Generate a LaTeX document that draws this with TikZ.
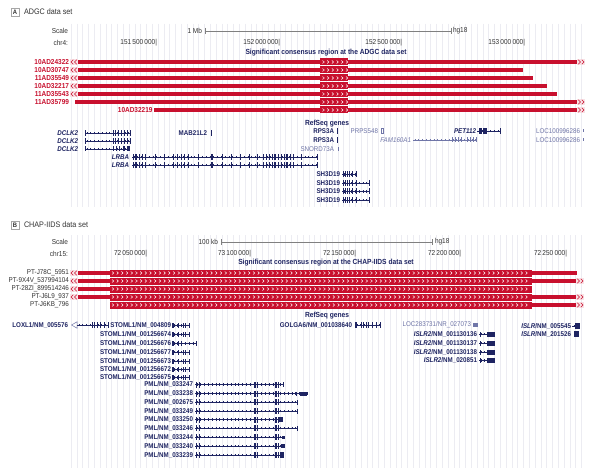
\documentclass[tikz,border=0pt]{standalone}
\usepackage{fontspec}
\setmainfont{Liberation Sans}[FakeStretch=0.9]
\definecolor{redc}{HTML}{C8102E}
\definecolor{navy}{HTML}{1E2462}
\definecolor{lnavy}{HTML}{7076A8}
\definecolor{gridc}{HTML}{ECECF2}
\definecolor{txtg}{HTML}{333333}
\newcommand\gline[4]{\draw[#1, line width=0.45pt] (#3,#2) -- (#4,#2);
  \draw[#1, line width=2.2pt, dash pattern=on 0.4pt off 3.4pt] (#3+1.5,#2) -- (#4,#2);}
\newcommand\gexon[4]{\foreach \a/\w in {#3} {\fill[#1] (\a-\w/2,#2-#4/2) rectangle (\a+\w/2,#2+#4/2);}}
\newcommand\lmark[2]{\fill[redc!12] (#1,#2-3) rectangle (#1+8,#2+3);
  \draw[redc, line width=0.5pt] (#1+3.2,#2-2.3)--(#1+1,#2)--(#1+3.2,#2+2.3) (#1+6.7,#2-2.3)--(#1+4.5,#2)--(#1+6.7,#2+2.3);}
\newcommand\rmark[2]{\fill[redc!12] (#1,#2-3) rectangle (#1+8,#2+3);
  \draw[redc, line width=0.5pt] (#1+1.3,#2-2.3)--(#1+3.5,#2)--(#1+1.3,#2+2.3) (#1+4.8,#2-2.3)--(#1+7,#2)--(#1+4.8,#2+2.3);}
\newcommand\chev[2]{\draw[white, line width=0.5pt] (#1,#2-1.5)--(#1+1.7,#2)--(#1,#2+1.5);}
\begin{document}
\begin{tikzpicture}[x=1pt,y=-1pt,
  every node/.style={inner sep=0pt, outer sep=0pt},
  hdr/.style={font=\fontsize{8}{9}\selectfont, text=txtg, anchor=west},
  sm/.style={font=\fontsize{7.2}{8}\selectfont, text=txtg},
  smp/.style={font=\bfseries\fontsize{7.2}{8}\selectfont, text=redc, anchor=east},
  smb/.style={font=\fontsize{7}{8}\selectfont, text=txtg, anchor=east},
  ttl/.style={font=\bfseries\fontsize{7.4}{8}\selectfont, text=navy},
  gb/.style={font=\bfseries\fontsize{6.9}{8}\selectfont, text=navy, anchor=east},
  gbi/.style={font=\bfseries\itshape\fontsize{6.9}{8}\selectfont, text=navy, anchor=east},
  gli/.style={font=\itshape\fontsize{6.9}{8}\selectfont, text=lnavy, anchor=east},
  glt/.style={font=\fontsize{6.9}{8}\selectfont, text=lnavy, anchor=east},
  pbox/.style={draw=gray!70, line width=0.5pt, minimum width=8.5pt, minimum height=8.5pt, font=\bfseries\fontsize{6.5}{7}\selectfont, text=txtg}
]
\useasboundingbox (0,0) rectangle (600,468);
\fill[white] (0,0) rectangle (600,468);
% grid lines
\foreach \x in {71,76.8,...,585} {\draw[gridc, line width=0.5pt] (\x,24) -- (\x,207);}
\foreach \x in {71,76.8,...,585} {\draw[gridc, line width=0.5pt] (\x,235) -- (\x,468);}

% ================= PANEL A =================
\node[pbox] (boxA) at (15,12.2) {A};
\node[hdr] (hA) at (24,12) {ADGC data set};
\node[sm, anchor=east] (scA) at (68,31) {Scale};
\node[sm, anchor=east] (mbA) at (202,31) {1 Mb};
\draw[gray, line width=0.5pt] (205,31)--(451,31) (205,28)--(205,34) (451,28)--(451,34);
\node[sm, anchor=west] (hgA) at (453,31) {hg18};
\node[sm, anchor=east] (chrA) at (68,43) {chr4:};
\node[sm, anchor=east] (pA1) at (157,43) {151\,500\,000|};
\node[sm, anchor=east] (pA2) at (280,43) {152\,000\,000|};
\node[sm, anchor=east] (pA3) at (402,43) {152\,500\,000|};
\node[sm, anchor=east] (pA4) at (525,43) {153\,000\,000|};
\node[ttl] (tA) at (326,52.5) {Significant consensus region at the ADGC data set};

\foreach \n/\y/\lab/\e in {1/62/10AD24322/578, 2/70/10AD30747/523, 3/78/11AD35549/533, 4/86/10AD32217/547, 5/94/11AD35543/557}{
  \node[smp] (sA\n) at (69,\y) {\lab};
  \lmark{70}{\y}
  \fill[redc] (78,\y-2.2) rectangle (\e,\y+2.2);
}
\node[smp] (sA6) at (69,102) {11AD35799};
\fill[redc] (75,102-2.2) rectangle (578,102+2.2);
\node[smp] (sA7) at (152.5,110) {10AD32219};
\fill[redc] (154,110-2.2) rectangle (578,110+2.2);
\foreach \y in {62,102,110} {\rmark{577}{\y}}
\foreach \y in {62,70,...,110} {
  \fill[redc] (320,\y-3.5) rectangle (348,\y+3.5);
  \foreach \x in {322.5,327.2,...,346} {\chev{\x}{\y}}
}

\node[ttl, anchor=west] (rA) at (305,124) {RefSeq genes};
% DCLK2
\foreach \y [count=\i] in {133,141} {
  \node[gbi] (dclk\i) at (78,\y) {DCLK2};
  \gline{navy}{\y}{85}{130}
  \gexon{navy}{\y}{85/0.6,113/1,115.5/0.8,118/0.8,121/1,124/0.8,127/1,130/0.8}{5.5}
}
\node[gbi] (dclk3) at (78,149) {DCLK2};
\gline{navy}{149}{85}{130}
\gexon{navy}{149}{85/0.6,113/0.8,116/0.8,119/0.8,124/1.5,128/3}{5}
% MAB21L2
\node[gb] (mab) at (207,133) {MAB21L2};
\fill[navy] (210.6,130) rectangle (211.6,136);
% LRBA
\foreach \y [count=\i] in {157,165} {
  \node[gbi] (lrba\i) at (129,\y) {LRBA};
  \gline{navy}{\y}{132}{317}
  \gexon{navy}{\y}{133/1,136/1.4,139/1,142/1,145/1,155/0.8,164/0.8,173/1,177/1,181/1,184/1,188/0.8,198/0.7,212/2,222/0.7,231/0.7,240/0.7,249/0.7,257/0.7,263/1,266/1,269/1,272/1,275/1.6,278/1,281/1,284/1,287/1.6,290/1,293/1,301/0.7,317/0.8}{6}
}
% RPS3A, SNORD73A
\node[gb] (rps1) at (334,131) {RPS3A};
\fill[navy] (336.5,128) rectangle (338,134);
\node[gb] (rps2) at (334,140) {RPS3A};
\fill[navy] (336.5,137) rectangle (338,143);
\node[glt] (snord) at (334,149) {SNORD73A};
\fill[lnavy] (337.6,147) rectangle (338.4,151);
% PRPS548
\node[glt] (prps) at (378,131) {PRPS548};
\draw[lnavy, line width=0.4pt] (381.5,128.5) rectangle (383,133.5);
% FAM160A1
\node[gli] (fam) at (411,140) {FAM160A1};
\gline{lnavy}{140}{413}{477}
\gexon{lnavy}{140}{452/1,455/1,458/1,461/0.8,467/1,470/1,473/1,476/1}{5}
% PET112
\node[gbi] (pet) at (476,131) {PET112};
\gline{navy}{131}{477}{500}
\gexon{navy}{131}{479/1,481/1.2,484/1.5,486/1.2,500/0.7}{6}
% LOC100996286
\node[glt] (loc1) at (580,131) {LOC100996286};
\fill[lnavy] (582.6,129.5) rectangle (583.6,132.5);
\node[glt] (loc2) at (580,140) {LOC100996286};
\fill[lnavy] (582.6,138.5) rectangle (583.6,141.5);
% SH3D19
\node[gb] (sh1) at (340,174.5) {SH3D19};
\gline{navy}{174.5}{342}{356}
\gexon{navy}{174.5}{343/1,345/1,347/1,349/1,352/0.8,356/0.8}{6}
\foreach \y [count=\i from 2] in {183,191.5,200} {
  \node[gb] (sh\i) at (340,\y) {SH3D19};
  \gline{navy}{\y}{342}{369}
  \gexon{navy}{\y}{343/1,345/1,347/1,349/1,352/0.8,356/0.8,369/0.8}{6}
}

% ================= PANEL B =================
\node[pbox] (boxB) at (15,225) {B};
\node[hdr] (hB) at (24,224.8) {CHAP-IIDS data set};
\node[sm, anchor=east] (scB) at (68,242) {Scale};
\node[sm, anchor=east] (kbB) at (218,242) {100 kb};
\draw[gray, line width=0.5pt] (221,242)--(432,242) (221,239)--(221,245) (432,239)--(432,245);
\node[sm, anchor=west] (hgB) at (435,242) {hg18};
\node[sm, anchor=east] (chrB) at (68,254) {chr15:};
\node[sm, anchor=east] (pB1) at (147,254) {72\,050\,000|};
\node[sm, anchor=east] (pB2) at (251,254) {73\,100\,000|};
\node[sm, anchor=east] (pB3) at (356,254) {72\,150\,000|};
\node[sm, anchor=east] (pB4) at (461,254) {72\,200\,000|};
\node[sm, anchor=east] (pB5) at (567,254) {72\,250\,000|};
\node[ttl] (tB) at (326,263) {Significant consensus region at the CHAP-IIDS data set};

\node[smb] (sB1) at (69,273) {PT-J78C\_5951};
\node[smb] (sB2) at (69,281) {PT-9X4V\_537994104};
\node[smb] (sB3) at (69,289) {PT-28ZI\_899514246};
\node[smb] (sB4) at (69,297) {PT-J6L9\_937};
\node[smb] (sB5) at (69,305) {PT-J6KB\_796};
\foreach \y in {273,281,289,297} {
  \lmark{70}{\y}
  \fill[redc] (78,\y-2.2) rectangle (110,\y+2.2);
}
\foreach \y in {273,281,297,305} {\fill[redc] (532,\y-2.2) rectangle (577,\y+2.2);}
\foreach \y in {281,297,305} {\rmark{576}{\y}}
\foreach \y in {273,281,...,305} {
  \fill[redc] (110,\y-3.5) rectangle (532,\y+3.5);
  \foreach \x in {112,116.7,...,529} {\chev{\x}{\y}}
}

\node[ttl, anchor=west] (rB) at (305,316) {RefSeq genes};
% LOXL1
\node[gb] (loxl) at (68,325) {LOXL1/NM\_005576};
\draw[lnavy, line width=0.5pt] (77,321.8)--(71.5,325)--(77,328.2)--cycle;
\gline{navy}{325}{77}{108}
\gexon{navy}{325}{92/1,94.5/1,97/1,100/0.8,104/0.8,108/0.8}{5.5}
% STOML1
\foreach \y/\lab [count=\i] in {325.5/004809,334.5/001256674,352/001256677,361/001256673,369.5/001256672,377.5/001256675} {
  \node[gb] (stoml\i) at (171,\y) {STOML1/NM\_\lab};
  \gline{navy}{\y}{172}{190}
  \gexon{navy}{\y}{173/1.8,178/0.8,183/0.8,185.5/0.8,189.5/0.8}{5}
}
\node[gb] (stoml7) at (171,343.5) {STOML1/NM\_001256676};
\gline{navy}{343.5}{172}{196}
\gexon{navy}{343.5}{173/1.8,178/0.8,181/0.8,196/0.6}{5}
% PML
\foreach \y/\lab/\e [count=\i] in {384.5/033247/283,393.5/033238/307,402/002675/297,411/033249/297,419.5/033250/281,428/033246/297,437/033244/283,446/033240/283,455/033239/282} {
  \node[gb] (pml\i) at (193,\y) {PML/NM\_\lab};
  \gline{navy}{\y}{195}{\e}
  \gexon{navy}{\y}{196/0.8,199/0.8,255/2,257.5/0.8,276/1.2,278.5/1.2}{6}
}
\gexon{navy}{384.5}{283/0.7}{5}
\gexon{navy}{393.5}{296/0.8,303.5/7}{4}
\gexon{navy}{402}{297/0.7}{5}
\gexon{navy}{411}{297/0.7}{5}
\gexon{navy}{419.5}{281/4}{5.5}
\gexon{navy}{428}{297/0.7}{5}
\gexon{navy}{437}{283.5/3}{3}
\gexon{navy}{446}{283/4}{4}
\gexon{navy}{455}{282/4.5}{6}
% GOLGA6
\node[gb] (golga) at (352,325) {GOLGA6/NM\_001038640};
\gline{navy}{325}{355}{380}
\gexon{navy}{325}{356/2.5,361/1,363.5/1.5,366/1,368.5/1.5,372/0.8,376/0.8,380/0.8}{6}
% LOC283731
\node[glt] (loc3) at (471,325) {LOC283731/NR\_027073};
\fill[lnavy] (473,323.3) rectangle (478,326.7);
% ISLR2
\foreach \y/\lab [count=\i] in {334/001130136,343/001130137,352/001130138,360.5/020851} {
  \node[gb] (islrb\i) at (477,\y) {\textit{ISLR2}/NM\_\lab};
  \gline{navy}{\y}{479}{488}
  \gexon{navy}{\y}{480/0.8,491/8}{5}
}
% ISLR
\node[gb] (islr1) at (571,326) {\textit{ISLR}/NM\_005545};
\gline{navy}{326}{572}{576}
\gexon{navy}{326}{577.5/5}{5.5}
\node[gb] (islr2) at (571,334) {\textit{ISLR}/NM\_201526};
\gexon{navy}{334}{576.5/5}{5.5}
\end{tikzpicture}
\end{document}
